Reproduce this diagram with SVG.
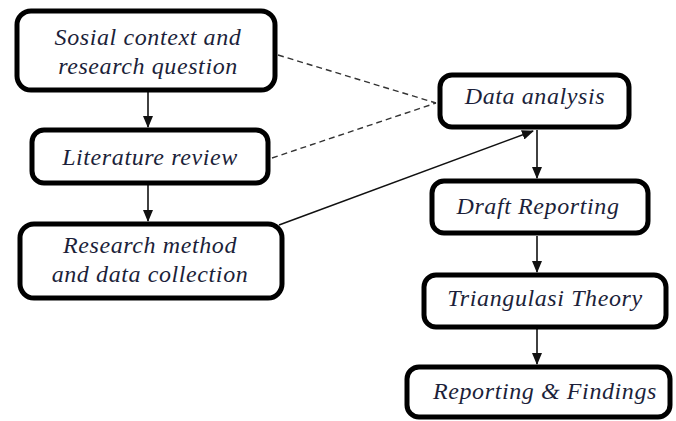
<svg xmlns="http://www.w3.org/2000/svg" width="676" height="421" viewBox="0 0 676 421">
<defs>
<marker id="ah" markerWidth="12" markerHeight="10" refX="11" refY="5" orient="auto" markerUnits="userSpaceOnUse">
<path d="M0,0 L12,5 L0,10 Z" fill="#111"/>
</marker>
<style>
.box{fill:#fff;stroke:#000;stroke-width:5}
.t{font-family:"Liberation Serif","Times New Roman",serif;font-style:italic;font-size:24px;letter-spacing:0.6px;fill:#1c1f3a;text-anchor:middle}
.c{stroke:#111;stroke-width:1.6;fill:none}
.d{stroke:#333;stroke-width:1.4;fill:none;stroke-dasharray:6,4}
</style>
</defs>
<rect width="676" height="421" fill="#fff"/>
<g id="connectors">
<line class="c" x1="148" y1="92" x2="148" y2="127" marker-end="url(#ah)"/>
<line class="c" x1="148" y1="185" x2="148" y2="221" marker-end="url(#ah)"/>
<line class="d" x1="278" y1="55" x2="436" y2="103"/>
<line class="d" x1="272" y1="158" x2="436" y2="103"/>
<line class="c" x1="279" y1="225" x2="533" y2="131" marker-end="url(#ah)"/>
<line class="c" x1="537" y1="130" x2="537" y2="178" marker-end="url(#ah)"/>
<line class="c" x1="537" y1="236" x2="537" y2="272" marker-end="url(#ah)"/>
<line class="c" x1="537" y1="329" x2="537" y2="364" marker-end="url(#ah)"/>
</g>
<g id="n1"><rect class="box" x="17" y="11" width="258" height="79" rx="14"/>
<text class="t" x="148" y="45">Sosial context and</text>
<text class="t" x="148" y="74">research question</text></g>
<g id="n2"><rect class="box" x="32" y="130" width="236" height="53" rx="12"/>
<text class="t" x="150" y="165">Literature review</text></g>
<g id="n3"><rect class="box" x="20" y="224" width="262" height="74" rx="14"/>
<text class="t" x="150" y="253">Research method</text>
<text class="t" x="150" y="282">and data collection</text></g>
<g id="n4"><rect class="box" x="440" y="75" width="189" height="52" rx="12"/>
<text class="t" x="535" y="104">Data analysis</text></g>
<g id="n5"><rect class="box" x="432" y="181" width="216" height="52" rx="12"/>
<text class="t" x="538" y="214">Draft Reporting</text></g>
<g id="n6"><rect class="box" x="424" y="275" width="242" height="52" rx="12"/>
<text class="t" x="545" y="306">Triangulasi Theory</text></g>
<g id="n7"><rect class="box" x="407" y="367" width="263" height="50" rx="12"/>
<text class="t" x="545" y="399">Reporting &amp; Findings</text></g>
</svg>
